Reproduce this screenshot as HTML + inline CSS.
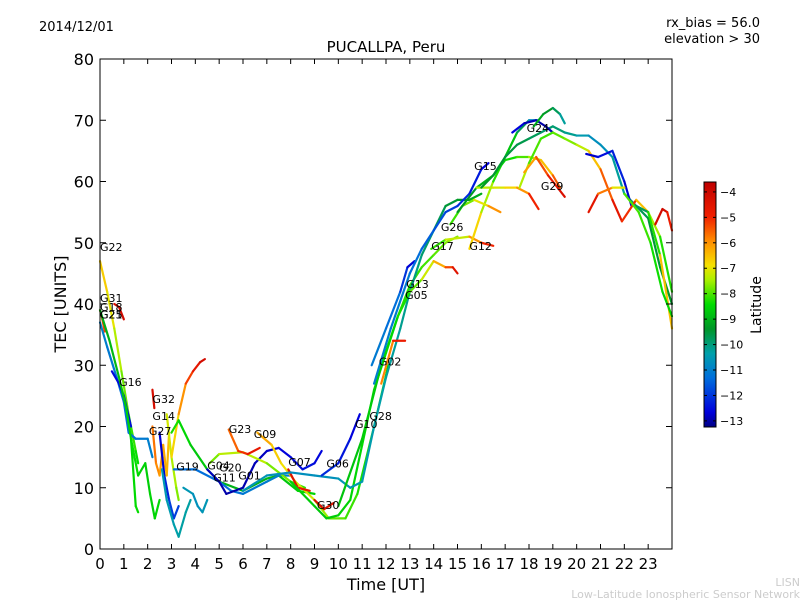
<!DOCTYPE html>
<html><head><meta charset="utf-8"><style>
body{margin:0;background:#fff;font-family:"Liberation Sans","DejaVu Sans",sans-serif}
svg text{font-family:"DejaVu Sans","Liberation Sans",sans-serif}
</style></head><body>
<svg id="chart" width="800" height="600" xmlns="http://www.w3.org/2000/svg">
<rect width="800" height="600" fill="#fff"/>
<text x="39" y="31" font-size="13">2014/12/01</text>
<text x="760" y="27" font-size="13" text-anchor="end">rx_bias = 56.0</text>
<text x="760" y="43" font-size="13" text-anchor="end">elevation &gt; 30</text>
<text x="386" y="52" font-size="15" text-anchor="middle">PUCALLPA, Peru</text>
<g id="marks"></g>
<g id="axes"></g>
<text x="386" y="590" font-size="16" text-anchor="middle">Time [UT]</text>
<text x="66" y="304" font-size="16" text-anchor="middle" transform="rotate(-90 66 304)">TEC [UNITS]</text>
<g id="cbar"></g>
<text x="761" y="305" font-size="14" text-anchor="middle" transform="rotate(-90 761 305)">Latitude</text>
<text x="800" y="586" font-size="11" fill="#ccc" text-anchor="end">LISN</text>
<text x="800" y="598" font-size="11" fill="#ccc" text-anchor="end">Low-Latitude Ionospheric Sensor Network</text>
</svg>
<script>
const xTicks=[0,1,2,3,4,5,6,7,8,9,10,11,12,13,14,15,16,17,18,19,20,21,22,23];
const yTicks=[0,10,20,30,40,50,60,70,80];
const cbTicks=[-4,-5,-6,-7,-8,-9,-10,-11,-12,-13];
const tracks=[
{t:[0,0.3,0.6,0.9,1.2,1.5,1.6],v:[47,42,36,29,22,16,14],lat:[-6.5,-6.8,-7.2,-7.6,-8,-8.3,-8.5]},
{t:[0.6,0.8,1.0],v:[40,39.5,37.5],lat:[-4.5,-4.2,-4]},
{t:[0,0.1,0.2],v:[39,37.5,35.5],lat:[-6,-5.5,-5]},
{t:[0,0.3,0.7,1.0,1.2,1.5,2.0,2.2],v:[37,33,28,24,19,18,18,15],lat:[-11,-11,-11.2,-11.3,-11.3,-11.2,-11,-11]},
{t:[0.5,0.8,1.0,1.3],v:[29,27,25,20],lat:[-12.5,-12.6,-12.6,-12.5]},
{t:[0,0.4,0.8,1.1,1.3,1.5,1.6],v:[39,34,28,23,18,7,6],lat:[-9,-9,-8.8,-8.6,-8.5,-8.4,-8.4]},
{t:[1.3,1.6,1.9,2.1,2.3,2.5],v:[18,12,14,9,5,8],lat:[-8.3,-8.5,-8.6,-8.6,-8.5,-8.5]},
{t:[2.2,2.35,2.5,2.65,2.8,2.9],v:[20,14,12,17,12,19],lat:[-5.6,-5.8,-6,-6.2,-6.3,-6.5]},
{t:[2.2,2.28],v:[26,23],lat:[-4.2,-4.3]},
{t:[2.8,3.0,3.2,3.3],v:[22,15,10,8],lat:[-7,-7.3,-7.6,-7.8]},
{t:[3.0,3.3,3.6,3.9,4.2,4.4],v:[15,22,27,29,30.5,31],lat:[-7,-6.5,-5.5,-5,-4.3,-4]},
{t:[2.5,2.7,2.9,3.1,3.3],v:[19,12,8,5,7],lat:[-13,-12.5,-12,-11.8,-12]},
{t:[2.6,2.8,3.1,3.3,3.6,3.8],v:[13,8,4,2,6,8],lat:[-10.5,-10.5,-10.4,-10.3,-10.3,-10.3]},
{t:[3.0,3.3,3.8,4.5,5.0,6.0,7.0,7.5,8.3,9.0],v:[19,21,17,13,11,9.5,11.5,12,9.5,9],lat:[-8.2,-8.4,-8.6,-8.8,-9,-9,-9,-8.8,-8.6,-8.5]},
{t:[3.5,3.9,4.1,4.3,4.5],v:[10,9,7,6,8],lat:[-10.5,-10.6,-10.7,-10.6,-10.5]},
{t:[3.1,4.0,5.0,5.5,6.0,7.0,7.5,8.0],v:[13,13,11,9.5,9,11,12,12],lat:[-11.3,-11.3,-11.3,-11.3,-11.2,-11,-11,-11]},
{t:[4.5,5.0,5.3,6.0,6.5,7.0,7.5,8.0,8.5,9.0,9.3],v:[13,11,9,10,14,16,16.5,15,13,14,16],lat:[-12.8,-12.9,-13,-13,-12.9,-12.8,-12.7,-12.6,-12.5,-12.4,-12.8]},
{t:[4.6,5.0,6.0,7.0,8.0,8.6],v:[14,15.5,15.8,14,11,10],lat:[-8,-7.5,-7.2,-7.5,-8,-8.3]},
{t:[5.4,5.8,6.2,6.7],v:[19.5,16,15.5,16.5],lat:[-5.8,-5.3,-4.9,-4.5]},
{t:[6.6,7.2,7.6,8.2,9.0,9.6,10.3,10.8,11.5,12.1],v:[19,17,14,11,8,5,5,9,20,30],lat:[-6,-6.5,-6.8,-7,-7.3,-7.8,-8,-8.2,-8.4,-8.5]},
{t:[7.9,8.3,8.8],v:[13,10,9.5],lat:[-4.3,-4.6,-4.8]},
{t:[8.0,8.5,9.0,9.5,10.0,10.5,11.0,11.5,12.0,12.5,13.0,13.5,14.0,14.5,15.0],v:[11,9,7,5,5.5,8,17,26,32,38,43,46,48,50,51],lat:[-8.6,-8.6,-8.7,-8.7,-8.6,-8.5,-8.5,-8.4,-8.4,-8.3,-8.2,-8.1,-8.0,-7.8,-7.5]},
{t:[9.0,9.4,9.8],v:[8,6.5,7.5],lat:[-4.2,-4.5,-4.8]},
{t:[6.0,7.0,8.0,9.0,10.0,10.5,11.0,11.5,12.0,12.6,13.0,13.5,14.0,14.5,15.0,15.5,16.0],v:[9.5,12,12.5,12,11.5,10,11,20,28,36,42,48,52,56,57,57,58],lat:[-10.5,-10.6,-10.7,-10.7,-10.6,-10.5,-10.4,-10.4,-10.3,-10.2,-10.1,-10,-9.8,-9.6,-9.4,-9.2,-9]},
{t:[9.3,10.0,10.5,10.9],v:[12,14,18,22],lat:[-12,-12.3,-12.5,-12.8]},
{t:[10.0,11.0,11.8,12.5,13.0,13.5,14.0,14.5,14.8,15.0],v:[7,18,30,38,42,44,47,46,46,45],lat:[-8.8,-8.7,-8.6,-8.4,-8.2,-7.6,-6.8,-5.8,-4.8,-4.2]},
{t:[11.4,12.0,12.6,12.9,13.2],v:[30,36,42,46,47],lat:[-11,-11.2,-11.4,-12.6,-12.8]},
{t:[11.8,12.3,12.8],v:[27,34,34],lat:[-6.5,-5.2,-4.5]},
{t:[11.5,12.2,13.0,13.5,14.0,14.5,15.0,15.5,16.0,16.3],v:[27,36,45,49,52,55,56,58,62,63],lat:[-11,-11,-11.2,-11.4,-11.6,-11.8,-12,-12.2,-12.5,-12.8]},
{t:[13.9,14.5,15.5,16.0,16.5],v:[49,50.5,51,50,49.5],lat:[-8.3,-8,-6.5,-5.5,-4.5]},
{t:[15.5,16.0,16.5,17.0,17.5,18.0,18.4],v:[49,55,60,64,68,70,70],lat:[-6.5,-7,-8,-8.5,-9,-10.5,-11]},
{t:[14.7,15.2,15.7,16.3,16.8],v:[53,56,57,56,55],lat:[-8.2,-8,-7.5,-6.5,-5.5]},
{t:[15.0,15.8,16.5,17.0,17.5,18.0,18.5,19.0,19.3],v:[55,59,61,63.5,64,64,63.5,61,59],lat:[-9.5,-9.2,-8.8,-8.5,-8.2,-7.8,-7,-6,-5]},
{t:[15.8,16.5,17.0,17.5,18.0,18.4],v:[59,59,59,59,58,55.5],lat:[-7.5,-7.2,-7,-6.5,-5.5,-4.5]},
{t:[16.0,16.5,17.0,17.5,18.0,18.5,19.0,19.5,20.0,20.5,21.0,21.5,22.0,22.5,23.0,23.5,24.0],v:[59,61,64,66,67,68,69,68,67.5,67.5,66,64,58,56,54,46,40],lat:[-9.3,-9.4,-9.5,-9.6,-9.7,-9.8,-9.9,-10,-10.3,-10.6,-10.8,-10.5,-10,-9.8,-9.6,-9.4,-9.3]},
{t:[17.3,17.8,18.3,18.7,19.0],v:[68,69.5,70,69,68],lat:[-12.5,-12.8,-13,-13,-12.8]},
{t:[18.2,18.6,19.0,19.3,19.5],v:[69,71,72,71,69.5],lat:[-9,-9.2,-9.5,-10,-10.5]},
{t:[17.6,18.0,18.5,19.0,19.5,20.0,20.5,21.0,21.5,21.9],v:[59,63,67,68,67,66,65,62,57,53.5],lat:[-7,-7.8,-8.2,-8,-7.8,-7.6,-7,-6,-5,-4.3]},
{t:[17.8,18.3,18.8,19.2,19.5],v:[61.5,64,61,59,57.5],lat:[-6.5,-5.8,-5,-4.5,-4.2]},
{t:[20.4,20.9,21.5,22.0,22.3],v:[64.5,64,65,60,56],lat:[-12.5,-13,-12,-12.5,-13]},
{t:[20.5,20.9,21.5,22.0],v:[55,58,59,59],lat:[-4.2,-5,-6.5,-7.5]},
{t:[21.9,22.5,23.0,23.5,24.0],v:[53.5,57,55,51,42],lat:[-4.2,-6,-7,-8,-8.5]},
{t:[22.5,23.0,23.5,24.0],v:[56,55,48,36],lat:[-10,-9.5,-7,-6]},
{t:[23.3,23.6,23.8,24.0],v:[53,55.5,55,52],lat:[-4.3,-4,-4.2,-5.5]},
{t:[22.0,22.6,23.1,23.6,24.0],v:[58,55,50,42,38],lat:[-8,-8,-8.2,-8.5,-8.5]}
];
const labelNames=["G22","G31","G18","G25","G21","G16","G32","G14","G27","G19","G04","G20","G11","G01","G23","G09","G07","G06","G30","G10","G28","G02","G05","G13","G17","G12","G26","G15","G24","G29"];
const labelT=[0,0,0,0,0,0.8,2.2,2.2,2.05,3.2,4.5,5.0,4.75,5.8,5.4,6.45,7.9,9.5,9.1,10.7,11.3,11.7,12.8,12.85,13.9,15.5,14.3,15.7,17.9,18.5];
const labelV=[49.3,41,39.5,38.3,38.3,27.3,24.5,21.7,19.3,13.5,13.6,13.3,11.7,12,19.6,18.8,14.2,14,7.2,20.4,21.7,30.6,41.5,43.3,49.5,49.5,52.6,62.5,68.7,59.3];

const NS="http://www.w3.org/2000/svg";
const X0=100,X1=672,Y0=549,Y1=59;
const xs=t=>X0+(t/24)*(X1-X0);
const ys=v=>Y0-(v/80)*(Y0-Y1);
const LMIN=-13.24,LMAX=-3.61;
const CM=[[0,0,0,130],[0.06,0,0,220],[0.2,0,110,220],[0.3,0,160,170],[0.4,0,150,40],[0.5,0,220,0],[0.6,170,240,0],[0.66,245,225,0],[0.76,255,140,0],[0.86,240,30,0],[1,190,0,0]];
function cmap(f){f=Math.max(0,Math.min(1,f));
 for(let i=0;i<CM.length-1;i++){const a=CM[i],b=CM[i+1];
  if(f<=b[0]){const u=(f-a[0])/(b[0]-a[0]);
   return `rgb(${Math.round(a[1]+u*(b[1]-a[1]))},${Math.round(a[2]+u*(b[2]-a[2]))},${Math.round(a[3]+u*(b[3]-a[3]))})`;}}
 return 'rgb(190,0,0)';}
const latColor=l=>cmap((l-LMIN)/(LMAX-LMIN));
function mk(tag,attrs,parent){const e=document.createElementNS(NS,tag);for(const k in attrs)e.setAttribute(k,attrs[k]);parent.appendChild(e);return e;}
const marks=document.getElementById('marks');
tracks.forEach((tr,i)=>{
 const g=mk('g',{},marks);
 
 
 for(let j=0;j<tr.t.length-1;j++){
  const lat=(tr.lat[j]+tr.lat[j+1])/2;
  const s=mk('line',{x1:xs(tr.t[j]),y1:ys(tr.v[j]),x2:xs(tr.t[j+1]),y2:ys(tr.v[j+1]),stroke:latColor(lat),'stroke-width':2.2,'stroke-linecap':'round'},g);
  
  
 }
});
labelNames.forEach((n,i)=>{
 const t=mk('text',{x:xs(labelT[i]),y:ys(labelV[i])+4,'font-size':11,fill:'#000'},marks);
 
 
 t.textContent=n;
});
const axes=document.getElementById('axes');
const fr=mk('rect',{x:X0,y:Y1,width:X1-X0,height:Y0-Y1,fill:'none',stroke:'#000','stroke-width':1},axes);


xTicks.forEach(v=>{
 const x=xs(v);
 mk('line',{x1:x,y1:Y0,x2:x,y2:Y0-5,stroke:'#000'},axes);
 mk('line',{x1:x,y1:Y1,x2:x,y2:Y1+5,stroke:'#000'},axes);
 const t=mk('text',{x:x,y:Y0+20,'font-size':15,'text-anchor':'middle'},axes);
 
 
 t.textContent=v;
});
yTicks.forEach(v=>{
 const y=ys(v);
 mk('line',{x1:X0,y1:y,x2:X0+6,y2:y,stroke:'#000'},axes);
 mk('line',{x1:X1,y1:y,x2:X1-6,y2:y,stroke:'#000'},axes);
 const t=mk('text',{x:X0-6,y:y+6,'font-size':16,'text-anchor':'end'},axes);
 
 
 t.textContent=v;
});
const cb=document.getElementById('cbar');
const CX=704,CW=12,CY0=182,CY1=427;
const defs=mk('defs',{},cb);
const grad=mk('linearGradient',{id:'cmg',x1:0,y1:1,x2:0,y2:0},defs);
CM.forEach(s=>mk('stop',{offset:s[0],'stop-color':`rgb(${s[1]},${s[2]},${s[3]})`},grad));
const cr=mk('rect',{x:CX,y:CY0,width:CW,height:CY1-CY0,fill:'url(#cmg)',stroke:'#000'},cb);


cbTicks.forEach(v=>{
 const y=CY1-(v-LMIN)/(LMAX-LMIN)*(CY1-CY0);
 mk('line',{x1:CX,y1:y,x2:CX+3,y2:y,stroke:'#000'},cb);
 mk('line',{x1:CX+CW,y1:y,x2:CX+CW-3,y2:y,stroke:'#000'},cb);
 const t=mk('text',{x:CX+CW+4,y:y+4,'font-size':11},cb);
 
 
 t.textContent='\u2212'+Math.abs(v);
});
</script>
</body></html>
